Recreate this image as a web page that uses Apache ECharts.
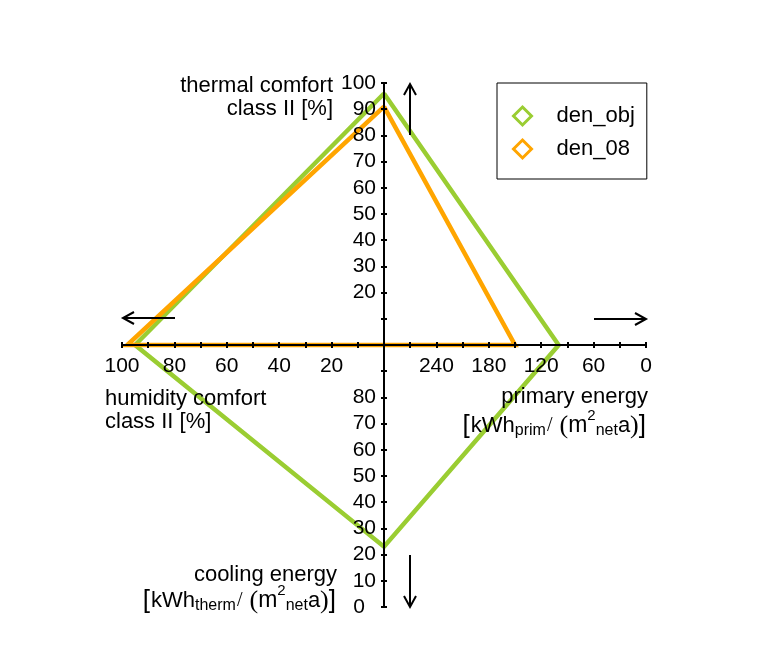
<!DOCTYPE html>
<html>
<head>
<meta charset="utf-8">
<script src="https://cdn.jsdelivr.net/npm/echarts@6/dist/echarts.min.js"></script>
<style>
html,body{margin:0;padding:0;background:#fff;}
#chart{width:768px;height:671px;}
</style>
</head>
<body>
<div id="chart"></div>
<script>
// ---------- data ----------
const seriesNames = ['den_obj', 'den_08'];
const thermalComfort = [96, 91];     // top axis  [%]
const primaryEnergy = [100, 150];    // right axis [kWh_prim/(m2_net a)]
const coolingEnergy = [23, 100];     // bottom axis [kWh_therm/(m2_net a)]
const humidityComfort = [95, 98];    // left axis [%]

// axis ranges
const thermalRange = [0, 100, 10];
const humidityRange = [0, 100, 10];
const primaryRange = [0, 300, 30];
const coolingRange = [0, 100, 10];

// tick labels
const thermalTicks = [20, 30, 40, 50, 60, 70, 80, 90, 100];
const humidityTicks = [20, 40, 60, 80, 100];
const primaryTicks = [0, 60, 120, 180, 240];
const coolingTicks = [0, 10, 20, 30, 40, 50, 60, 70, 80];

const axisTitles = {
  thermal: ['thermal comfort', 'class II [%]'],
  humidity: ['humidity comfort', 'class II [%]'],
  primary: ['primary energy', 'prim'],
  cooling: ['cooling energy', 'therm']
};

// ---------- styles ----------
const colors = ['#9ACD32', '#FFA500'];
const FONT = 'Liberation Sans, Arial, sans-serif';
const SERIF = 'Liberation Serif, Times New Roman, serif';
const NUM_SIZE = 21;
const TITLE_SIZE = 22;

// ---------- geometry (normalised star coordinates) ----------
function starPoints(i) {
  const ty = (thermalComfort[i] - thermalRange[0]) / (thermalRange[1] - thermalRange[0]);
  const rx = (primaryRange[1] - primaryEnergy[i]) / (primaryRange[1] - primaryRange[0]);
  const by = -(coolingRange[1] - coolingEnergy[i]) / (coolingRange[1] - coolingRange[0]);
  const lx = -(humidityComfort[i] - humidityRange[0]) / (humidityRange[1] - humidityRange[0]);
  return [[0, ty], [rx, 0], [0, by], [lx, 0], [0, ty]];
}

const C = {x: 384, y: 345}, L = 262;

const tickStyle = {color: '#000', width: 2};
function fmt(list, zeroShift) {
  return v => {
    const r = Math.round(v);
    if (list.indexOf(r) < 0) return '';
    if (zeroShift && r === 0) return '{z|0}';
    return String(r);
  };
}

function visAxis(grid, range, position, list, inverse, margin, zeroShift) {
  return [{
    gridIndex: grid, type: 'value', min: range[0], max: range[1], interval: range[2],
    position: position, inverse: inverse, z: 5,
    axisLine: {show: true, onZero: false, lineStyle: {color: '#000', width: 2}},
    axisTick: {show: true, inside: false, length: 3, lineStyle: tickStyle},
    axisLabel: {show: true, margin: margin, color: '#000', fontSize: NUM_SIZE, fontFamily: FONT,
      showMinLabel: true, showMaxLabel: true, formatter: fmt(list, zeroShift),
      rich: {z: {fontSize: NUM_SIZE, fontFamily: FONT, color: '#000', padding: [0, 11, 0, 0]}}},
    splitLine: {show: false}
  }, {
    gridIndex: grid, type: 'value', min: range[0], max: range[1], interval: range[2],
    position: position, inverse: inverse, z: 5,
    axisLine: {show: false, onZero: false},
    axisTick: {show: true, inside: true, length: 3, lineStyle: tickStyle},
    axisLabel: {show: false},
    splitLine: {show: false}
  }];
}
function hidden(grid) {
  return {gridIndex: grid, type: 'value', min: 0, max: 1, show: false,
    axisLine: {onZero: false}, splitLine: {show: false}};
}

const xAxes = [
  {gridIndex: 0, type: 'value', min: -1, max: 1, show: false, splitLine: {show: false}},
  hidden(1), hidden(2),
  ...visAxis(3, humidityRange, 'bottom', humidityTicks, true, 11),
  ...visAxis(4, primaryRange, 'bottom', primaryTicks, true, 11)
];
const yAxes = [
  {gridIndex: 0, type: 'value', min: -1, max: 1, show: false, splitLine: {show: false}},
  ...visAxis(1, thermalRange, 'left', thermalTicks, false, 8),
  ...visAxis(2, coolingRange, 'left', coolingTicks, false, 8, true),
  hidden(3), hidden(4)
];

const grids = [
  {left: C.x - L, top: C.y - L, width: 2 * L, height: 2 * L},
  {left: C.x, top: C.y - L, width: 20, height: L},
  {left: C.x, top: C.y, width: 20, height: L},
  {left: C.x - L, top: C.y - 20, width: L, height: 20},
  {left: C.x, top: C.y - 20, width: L, height: 20}
];

const series = seriesNames.map((n, i) => ({
  name: n, type: 'line', xAxisIndex: 0, yAxisIndex: 0,
  data: starPoints(i), symbol: 'none', z: 2 + i,
  lineStyle: {color: colors[i], width: 4.5, join: 'miter'},
  itemStyle: {color: colors[i]},
  animation: false
}));

const rich = {
  n: {fontSize: TITLE_SIZE, fontFamily: FONT, color: '#000'},
  m: {fontSize: 23, fontFamily: FONT, color: '#000'},
  b: {fontSize: 26, fontFamily: FONT, color: '#000', padding: [0, 1, 0, 0]},
  sub: {fontSize: 16, fontFamily: FONT, color: '#000', padding: [10, 0, 0, 0]},
  sup: {fontSize: 15, fontFamily: FONT, color: '#000', padding: [0, 0, 20, 0]},
  sl: {fontSize: 20, fontFamily: SERIF, color: '#555', padding: [0, 7, 0, 1]},
  par: {fontSize: 26, fontFamily: SERIF, color: '#666'}
};
function unitText(sub) {
  return '{b|[}{n|kWh}{sub|' + sub + '}{sl|/}{par|(}{m|m}{sup|2}{sub|net}{n|a}{par|)}{b|]}';
}
function txt(x, y, text, align, richText) {
  return {
    type: 'text', x: x, y: y, z: 10,
    style: richText ? {text: text, align: align, verticalAlign: 'middle', rich: rich, fill: '#000',
                       fontSize: TITLE_SIZE, fontFamily: FONT}
                    : {text: text, align: align, verticalAlign: 'middle', fill: '#000',
                       fontSize: TITLE_SIZE, fontFamily: FONT}
  };
}
function arrow(pts) {
  return {type: 'polyline', z: 10, shape: {points: pts},
    style: {stroke: '#000', lineWidth: 2, fill: null}};
}

const graphics = [
  txt(333, 86, axisTitles.thermal[0], 'right'),
  txt(333, 109, axisTitles.thermal[1], 'right'),
  txt(105, 399, axisTitles.humidity[0], 'left'),
  txt(105, 422, axisTitles.humidity[1], 'left'),
  txt(648, 397, axisTitles.primary[0], 'right'),
  txt(647, 426, unitText(axisTitles.primary[1]), 'right', true),
  txt(337, 575, axisTitles.cooling[0], 'right'),
  txt(337, 601, unitText(axisTitles.cooling[1]), 'right', true),
  // direction arrows
  arrow([[410, 135], [410, 84]]), arrow([[404, 95], [410, 84], [416, 95]]),
  arrow([[175, 318], [123, 318]]), arrow([[134, 312], [123, 318], [134, 324]]),
  arrow([[594, 319], [646, 319]]), arrow([[635, 313], [646, 319], [635, 325]]),
  arrow([[410, 555], [410, 607]]), arrow([[404, 596], [410, 607], [416, 596]])
];

const chart = echarts.init(document.getElementById('chart'), null, {renderer: 'canvas'});
chart.setOption({
  backgroundColor: '#fff',
  animation: false,
  grid: grids,
  xAxis: xAxes,
  yAxis: yAxes,
  legend: {
    orient: 'vertical', left: 497, top: 83,
    padding: [22, 12, 19, 15],
    itemWidth: 18, itemHeight: 18, itemGap: 11,
    borderColor: '#000', borderWidth: 1, backgroundColor: '#fff',
    textStyle: {fontSize: TITLE_SIZE, fontFamily: FONT, color: '#000', padding: [0, 0, 0, 20]},
    data: seriesNames.map((n, i) => ({
      name: n, icon: 'diamond',
      itemStyle: {color: '#fff', borderColor: colors[i], borderWidth: 3}
    }))
  },
  series: series,
  graphic: graphics
});
</script>
</body>
</html>
